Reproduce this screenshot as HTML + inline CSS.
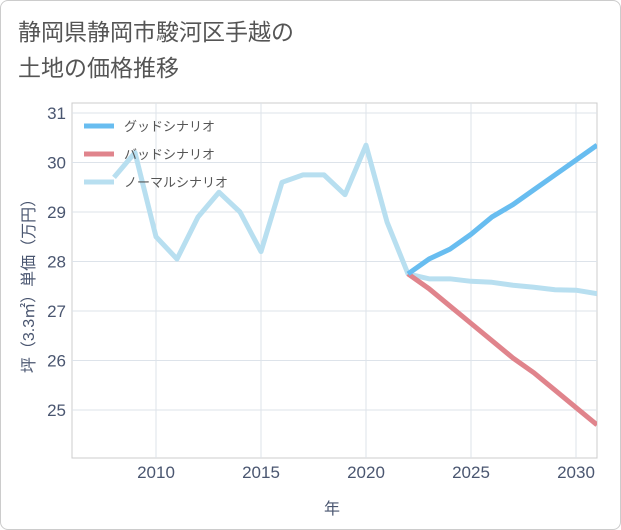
<!DOCTYPE html>
<html><head><meta charset="utf-8"><style>
body{margin:0;background:#fff;font-family:"Liberation Sans","Noto Sans CJK JP",sans-serif;}
.card{position:absolute;left:0;top:0;width:619px;height:528px;border:1px solid #ccc;border-radius:8px;background:#fff;}
</style></head><body>
<div class="card"></div>
<svg id="c" width="621" height="530" style="position:absolute;left:0;top:0">
<text x="18" y="40" font-size="23" fill="#555">静岡県静岡市駿河区手越の</text>
<text x="18" y="76" font-size="23" fill="#555">土地の価格推移</text>
<text x="332" y="514" font-size="16" fill="#4a5670" text-anchor="middle">年</text>
<text transform="translate(34,282) rotate(-90)" font-size="16" fill="#4a5670" text-anchor="middle">坪（3.3㎡）単価（万円）</text>
</svg>
<script>
const years=[2008,2009,2010,2011,2012,2013,2014,2015,2016,2017,2018,2019,2020,2021,2022,2023,2024,2025,2026,2027,2028,2029,2030,2031];
const normal=[29.7,30.2,28.5,28.05,28.9,29.4,29.0,28.2,29.6,29.75,29.75,29.35,30.35,28.8,27.75,27.65,27.65,27.6,27.58,27.52,27.48,27.43,27.42,27.35];
const futureYears=[2022,2023,2024,2025,2026,2027,2028,2029,2030,2031];
const good=[27.75,28.05,28.25,28.55,28.9,29.15,29.45,29.75,30.05,30.35];
const bad=[27.75,27.45,27.1,26.75,26.4,26.05,25.75,25.4,25.05,24.7];
const xTicks=[2010,2015,2020,2025,2030];
const yTicks=[25,26,27,28,29,30,31];
const L=72,R=597,T=103,B=458;
const x=v=>156+(v-2010)*21;
const y=v=>410-(v-25)*49.5;
const s=document.getElementById('c');const NS='http://www.w3.org/2000/svg';
function mk(t,a){const e=document.createElementNS(NS,t);for(const k in a)e.setAttribute(k,a[k]);s.appendChild(e);return e;}
const bg=mk('rect',{x:L,y:T,width:R-L,height:B-T,fill:'#fff',stroke:'#ccc'});


xTicks.forEach(t=>{const g=mk('line',{x1:x(t),x2:x(t),y1:T,y2:B,stroke:'#dde3ea'});


const l=mk('text',{x:x(t),y:B+20,'font-size':17,fill:'#4a5670','text-anchor':'middle'});l.textContent=t;

});
yTicks.forEach(t=>{const g=mk('line',{x1:L,x2:R,y1:y(t),y2:y(t),stroke:'#dde3ea'});


const l=mk('text',{x:L-6,y:y(t)+6,'font-size':17,fill:'#4a5670','text-anchor':'end'});l.textContent=t;

});
function line(xs,vs,c,n){const d=xs.map((v,i)=>(i?'L':'M')+x(v)+','+y(vs[i])).join('');
const p=mk('path',{d:d,fill:'none',stroke:c,'stroke-width':5,'stroke-linejoin':'round'});

}
const cp=mk('clipPath',{id:'cl'});const cr=document.createElementNS(NS,'rect');cr.setAttribute('x',L);cr.setAttribute('y',T);cr.setAttribute('width',R-L);cr.setAttribute('height',B-T);cp.appendChild(cr);
line(years,normal,'#b8dff0','normal-series');
line(futureYears,bad,'#e0848c','bad-series');
line(futureYears,good,'#68bdf0','good-series');
s.querySelectorAll('path').forEach(p=>p.setAttribute('clip-path','url(#cl)'));
[['グッドシナリオ','#68bdf0'],['バッドシナリオ','#e0848c'],['ノーマルシナリオ','#b8dff0']].forEach((e,i)=>{
const yy=126+i*28;
const l=mk('line',{x1:84,x2:114,y1:yy,y2:yy,stroke:e[1],'stroke-width':5});


const t=mk('text',{x:124,y:yy+5,'font-size':13,fill:'#555'});t.textContent=e[0];

});
</script>
</body></html>
